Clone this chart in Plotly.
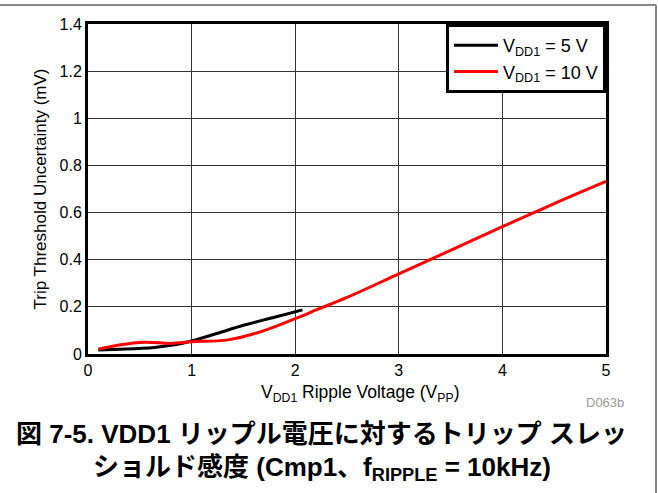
import plotly.graph_objects as go

# Measured ripple sensitivity curves
vdd5_ripple = [0.1, 0.3, 0.64, 0.85, 1.0, 1.25, 1.51, 1.8, 2.07]
vdd5_uncert = [0.017, 0.02, 0.028, 0.04, 0.055, 0.088, 0.123, 0.156, 0.187]

vdd10_ripple = [0.1, 0.3, 0.55, 0.8, 1.0, 1.35, 1.67, 2.0, 2.22, 2.5, 3.0, 3.5, 4.0, 4.5, 5.0]
vdd10_uncert = [0.02, 0.038, 0.05, 0.045, 0.052, 0.06, 0.095, 0.15, 0.19, 0.24, 0.34, 0.44, 0.54, 0.638, 0.732]

x_ticks = [0, 1, 2, 3, 4, 5]
y_ticks = [0, 0.2, 0.4, 0.6, 0.8, 1, 1.2, 1.4]
y_tick_labels = ["0", "0.2", "0.4", "0.6", "0.8", "1", "1.2", "1.4"]

W, H = 658, 493
ML, MR, MT, MB = 88, 52, 24, 139
PW, PH = W - ML - MR, H - MT - MB


def px(xp):
    return (xp - ML) / PW


def py(yp):
    return (H - MB - yp) / PH


FONT = "Liberation Sans, Arial, sans-serif"
CJK = "Liberation Sans, Arial, Noto Sans CJK JP, sans-serif"

fig = go.Figure()
fig.add_trace(go.Scatter(
    x=vdd5_ripple, y=vdd5_uncert, mode="lines",
    line=dict(color="black", width=3, shape="spline"),
    name="V<sub>DD1</sub> = 5 V",
))
fig.add_trace(go.Scatter(
    x=vdd10_ripple, y=vdd10_uncert, mode="lines",
    line=dict(color="#ff0000", width=3, shape="spline"),
    name="V<sub>DD1</sub> = 10 V",
))

axis_common = dict(
    showline=True, linecolor="black", linewidth=3, mirror=True,
    showgrid=True, gridcolor="#333333", gridwidth=1,
    zeroline=False, ticks="",
    tickfont=dict(family=FONT, size=16, color="black"),
)

fig.update_xaxes(range=[0, 5], tickvals=x_ticks, **axis_common)
fig.update_yaxes(
    range=[0, 1.4], tickvals=y_ticks, ticktext=y_tick_labels,
    title=dict(text="Trip Threshold Uncertainty (mV)",
               font=dict(family=FONT, size=17, color="black"), standoff=9),
    **axis_common,
)


def label(text, xp, yp, size, color="black", family=FONT):
    return dict(text=text, x=px(xp), y=py(yp), xref="paper", yref="paper",
                xanchor="center", yanchor="middle", showarrow=False,
                font=dict(family=family, size=size, color=color))


annotations = [
    label("V<sub>DD1</sub> Ripple Voltage (V<sub>PP</sub>)", 360, 393, 17.5),
    label("D063b", 605, 402, 13, color="#999999"),
    label("<b>図 7-5. VDD1 リップル電圧に対するトリップ スレッ</b>", 321, 434, 26, family=CJK),
    label("<b>ショルド感度 (Cmp1、f<sub>RIPPLE</sub> = 10kHz)</b>", 322, 468, 26, family=CJK),
]

shapes = [
    dict(type="line", xref="paper", yref="paper",
         x0=px(0), x1=px(656), y0=py(5), y1=py(5),
         line=dict(color="#888888", width=2)),
    dict(type="line", xref="paper", yref="paper",
         x0=px(656), x1=px(656), y0=py(5), y1=py(493),
         line=dict(color="#888888", width=2)),
]

fig.update_layout(
    width=W, height=H,
    margin=dict(l=ML, r=MR, t=MT, b=MB),
    paper_bgcolor="white", plot_bgcolor="white",
    showlegend=True,
    legend=dict(
        x=1, y=1, xanchor="right", yanchor="top",
        bgcolor="white", bordercolor="black", borderwidth=3,
        font=dict(family=FONT, size=18, color="black"),
        itemwidth=44, tracegroupgap=0,
    ),
    annotations=annotations,
    shapes=shapes,
)

fig.write_html("out.html")
